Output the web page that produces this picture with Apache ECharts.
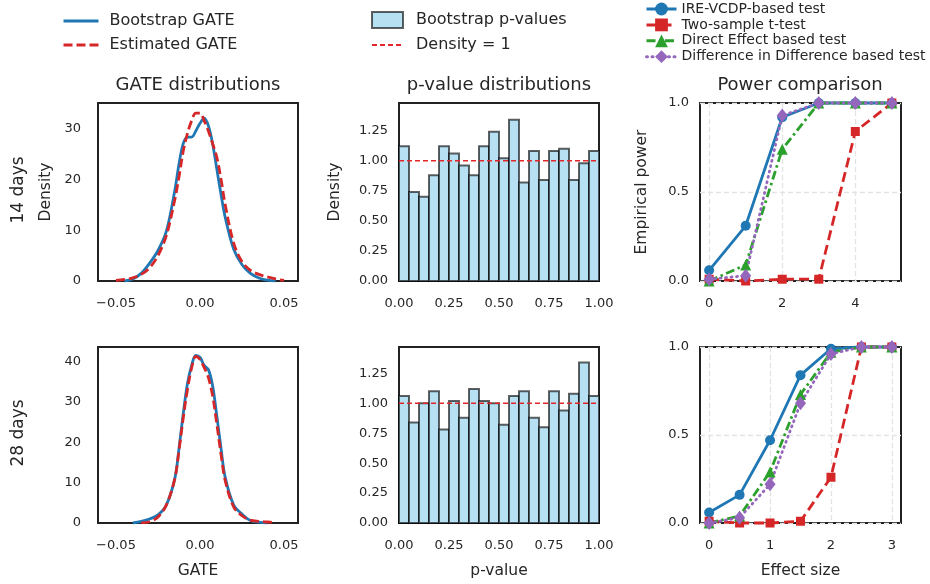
<!DOCTYPE html>
<html>
<head>
<meta charset="utf-8">
<script src="https://cdn.jsdelivr.net/npm/echarts@6/dist/echarts.min.js"></script>
<style>
  html, body { margin: 0; padding: 0; background: #fff; }
  #main { width: 930px; height: 584px; }
</style>
</head>
<body>
<div id="main"></div>
<script>
// GATE kde curves
var gateGrid = [-0.05, -0.045, -0.04, -0.035, -0.03, -0.025, -0.02, -0.015, -0.0125, -0.01, -0.0075, -0.005, -0.0025,
  0, 0.0025, 0.005, 0.0075, 0.01, 0.0125, 0.015, 0.02, 0.025, 0.03, 0.035, 0.04, 0.045, 0.05];
var boot14 = [null, 0.0, 0.4, 1.5, 3.5, 6.0, 9.8, 17.8, 23, 27, 28.3, 28.3, 29.5,
  31.0, 32.0, 30.5, 27, 22, 17, 12.5, 6.3, 3.2, 1.5, 0.6, 0.15, 0.0, null];
var est14 = [0.1, 0.3, 0.6, 1.3, 2.6, 5.0, 9.0, 16.0, 20.5, 25.5, 29.0, 31.5, 33.0,
  33.0, 31.5, 29.5, 27, 24.3, 20, 15, 7.5, 3.8, 2.1, 1.3, 0.8, 0.4, 0.1];
var boot28 = [null, null, 0.0, 0.4, 1.0, 2.0, 4.5, 11, 18.5, 27, 34.5, 39, 41.5,
  41, 39, 38, 34, 26.5, 18.5, 11.3, 4.5, 2.2, 0.6, 0.2, 0.0, null, null];
var est28 = [null, null, null, 0.05, 0.3, 1.5, 4.5, 11, 18, 26, 33, 38.4, 41.3,
  40.5, 38.5, 36, 31.5, 24.5, 17, 10.5, 4.0, 1.8, 0.7, 0.4, 0.25, 0.1, null];

// p-value histograms, 20 bins on [0, 1]
var pvalHist14 = [1.12, 0.74, 0.70, 0.88, 1.12, 1.06, 0.96, 0.88, 1.12, 1.24,
  1.02, 1.34, 0.82, 1.08, 0.84, 1.08, 1.10, 0.84, 0.98, 1.08];
var pvalHist28 = [1.06, 0.84, 1.00, 1.10, 0.78, 1.02, 0.88, 1.12, 1.02, 1.00,
  0.82, 1.06, 1.10, 0.88, 0.80, 1.10, 0.94, 1.08, 1.34, 1.06];

// power comparison
var effect14 = [0, 1, 2, 3, 4, 5];
var ire14 = [0.06, 0.31, 0.92, 1.0, 1.0, 1.0];
var ttest14 = [0.01, 0.0, 0.01, 0.01, 0.84, 1.0];
var direct14 = [0.0, 0.09, 0.74, 1.0, 1.0, 1.0];
var did14 = [0.01, 0.03, 0.93, 1.0, 1.0, 1.0];

var effect28 = [0, 0.5, 1, 1.5, 2, 2.5, 3];
var ire28 = [0.06, 0.16, 0.47, 0.84, 0.99, 1.0, 1.0];
var ttest28 = [0.01, 0.0, 0.0, 0.01, 0.26, 1.0, 1.0];
var direct28 = [0.0, 0.04, 0.29, 0.73, 0.97, 1.0, 1.0];
var did28 = [0.0, 0.03, 0.22, 0.68, 0.96, 1.0, 1.0];

var gateTicks = [-0.05, 0, 0.05];
var pvalTicks = [0, 0.25, 0.5, 0.75, 1];
var densTicks = [0, 0.25, 0.5, 0.75, 1, 1.25];

var font = 'DejaVu Sans';
var ink = '#262626';
var blue = '#1f77b4', red = '#d62728', green = '#2ca02c', purple = '#9467bd';
var histFill = '#b7e1f3';

function pairs(xs, ys) {
  var out = [];
  for (var i = 0; i < xs.length; i++) {
    if (ys[i] !== null) out.push([xs[i], ys[i]]);
  }
  return out;
}

function histRows(h) {
  var w = 1 / h.length;
  return h.map(function(v, i) { return [i * w, (i + 1) * w, v]; });
}

function renderBin(params, api) {
  var a = api.coord([api.value(0), api.value(2)]);
  var b = api.coord([api.value(1), 0]);
  return {
    type: 'rect',
    shape: { x: a[0], y: a[1], width: b[0] - a[0], height: b[1] - a[1] },
    style: { fill: histFill, stroke: 'rgba(0,0,0,0.62)', lineWidth: 2 }
  };
}

function minus(v, d) {
  var s = Math.abs(v).toFixed(d);
  return v < 0 ? '\u2212' + s : s;
}

var lefts = [98, 399, 700];
var widths = [200, 200, 201];
var tops = [103, 347];
var heights = [178, 176];

var grids = [];
for (var r = 0; r < 2; r++) {
  for (var c = 0; c < 3; c++) {
    grids.push({
      left: lefts[c], top: tops[r], width: widths[c], height: heights[r],
      show: true, borderColor: '#222', borderWidth: 2, backgroundColor: 'transparent'
    });
  }
}

var label = { color: ink, fontFamily: font, fontSize: 13 };
var nameStyle = { color: ink, fontFamily: font, fontSize: 15.5 };
var gridDash = { show: true, lineStyle: { color: '#e3e3e3', width: 1.3, type: [5, 3] } };

function xAxis(idx, opt) {
  var base = {
    type: 'value', gridIndex: idx,
    axisLine: { show: false }, axisTick: { show: false },
    splitLine: { show: false },
    axisLabel: Object.assign({ margin: 16 }, label),
    nameLocation: 'middle', nameGap: 40, nameTextStyle: nameStyle
  };
  return echarts.util.merge(base, opt, true);
}
function yAxis(idx, opt) {
  var base = {
    type: 'value', gridIndex: idx,
    axisLine: { show: false }, axisTick: { show: false },
    splitLine: { show: false },
    axisLabel: Object.assign({ margin: 11 }, label),
    nameLocation: 'middle', nameTextStyle: nameStyle
  };
  return echarts.util.merge(base, opt, true);
}

var gateX = {
  min: -0.0607, max: 0.0583,
  axisTick: { customValues: gateTicks },
  axisLabel: { customValues: gateTicks, formatter: function(v) { return minus(v, 2); } }
};
var pvalX = {
  min: 0, max: 1,
  axisTick: { customValues: pvalTicks },
  axisLabel: { customValues: pvalTicks, formatter: function(v) { return v.toFixed(2); } }
};

var xAxes = [
  xAxis(0, gateX),
  xAxis(1, pvalX),
  xAxis(2, {
    min: -0.25, max: 5.25, splitLine: gridDash,
    axisTick: { customValues: [0, 2, 4] },
    axisLabel: { customValues: [0, 2, 4] }
  }),
  xAxis(3, echarts.util.merge({ name: 'GATE' }, gateX)),
  xAxis(4, echarts.util.merge({ name: 'p-value' }, pvalX)),
  xAxis(5, {
    name: 'Effect size', min: -0.15, max: 3.15, splitLine: gridDash,
    axisTick: { customValues: [0, 1, 2, 3] },
    axisLabel: { customValues: [0, 1, 2, 3] }
  })
];

var yAxes = [
  yAxis(0, {
    min: 0, max: 35, name: 'Density', nameGap: 44,
    axisTick: { customValues: [0, 10, 20, 30] },
    axisLabel: { customValues: [0, 10, 20, 30], margin: 17 }
  }),
  yAxis(1, {
    min: 0, max: 1.48, name: 'Density', nameGap: 56,
    axisTick: { customValues: densTicks },
    axisLabel: { customValues: densTicks, formatter: function(v) { return v.toFixed(2); } }
  }),
  yAxis(2, {
    min: 0, max: 1, interval: 0.5, name: 'Empirical power', nameGap: 50, splitLine: gridDash,
    axisLabel: { formatter: function(v) { return v.toFixed(1); } }
  }),
  yAxis(3, {
    min: 0, max: 43.6,
    axisTick: { customValues: [0, 10, 20, 30, 40] },
    axisLabel: { customValues: [0, 10, 20, 30, 40], margin: 17 }
  }),
  yAxis(4, {
    min: 0, max: 1.47,
    axisTick: { customValues: densTicks },
    axisLabel: { customValues: densTicks, formatter: function(v) { return v.toFixed(2); } }
  }),
  yAxis(5, {
    min: 0, max: 1, interval: 0.5, splitLine: gridDash,
    axisLabel: { formatter: function(v) { return v.toFixed(1); } }
  })
];

var series = [];

function kde(name, idx, ys, color, dash) {
  series.push({
    name: name, type: 'line', xAxisIndex: idx, yAxisIndex: idx,
    data: pairs(gateGrid, ys), smooth: 0.35, symbol: 'none',
    lineStyle: { color: color, width: 2.8, type: dash || 'solid' },
    itemStyle: { color: color }
  });
}
kde('Bootstrap GATE', 0, boot14, blue);
kde('Estimated GATE', 0, est14, red, [9, 4]);
kde('Bootstrap GATE', 3, boot28, blue);
kde('Estimated GATE', 3, est28, red, [9, 4]);

function hist(idx, h) {
  series.push({
    name: 'Bootstrap p-values', type: 'custom', xAxisIndex: idx, yAxisIndex: idx,
    renderItem: renderBin, encode: { x: [0, 1], y: 2 },
    data: histRows(h), itemStyle: { color: histFill }
  });
  series.push({
    name: 'Density = 1', type: 'line', xAxisIndex: idx, yAxisIndex: idx,
    data: [[0, 1], [1, 1]], symbol: 'none', z: 3,
    lineStyle: { color: '#e3262a', width: 1.5, type: [5, 3] },
    itemStyle: { color: '#e3262a' }
  });
}
hist(1, pvalHist14);
hist(4, pvalHist28);

var tests = [
  { name: 'IRE-VCDP-based test', color: blue, symbol: 'circle', size: 10, dash: 'solid' },
  { name: 'Two-sample t-test', color: red, symbol: 'rect', size: 9, dash: [10, 5] },
  { name: 'Direct Effect based test', color: green, symbol: 'triangle', size: 11, dash: [9, 3.5, 2.5, 3.5] },
  { name: 'Difference in Difference based test', color: purple, symbol: 'diamond', size: [11, 14], dash: [1, 4.5] }
];
function power(idx, xs, vals) {
  tests.forEach(function(t, k) {
    series.push({
      name: t.name, type: 'line', xAxisIndex: idx, yAxisIndex: idx,
      data: pairs(xs, vals[k]), symbol: t.symbol, symbolSize: t.size,
      showAllSymbol: true, clip: false,
      lineStyle: { color: t.color, width: 2.8, type: t.dash, cap: k === 3 ? 'round' : 'butt' },
      itemStyle: { color: t.color }
    });
  });
}
power(2, effect14, [ire14, ttest14, direct14, did14]);
power(5, effect28, [ire28, ttest28, direct28, did28]);

var legendText = { color: ink, fontFamily: font };
// plain line entries: hide the marker that echarts puts on line icons
var noMark = { opacity: 0 };

var option = {
  animation: false,
  backgroundColor: '#fff',
  textStyle: { fontFamily: font },
  grid: grids,
  xAxis: xAxes,
  yAxis: yAxes,
  legend: [
    {
      left: 62, top: 13, padding: 0, orient: 'vertical', itemWidth: 35, itemHeight: 14, itemGap: 8,
      selectedMode: false,
      lineStyle: { width: 3 },
      data: [
        { name: 'Bootstrap GATE', itemStyle: noMark },
        { name: 'Estimated GATE', itemStyle: noMark }
      ],
      textStyle: Object.assign({ fontSize: 16, padding: [0, 0, 0, 6] }, legendText)
    },
    {
      left: 371, top: 11, padding: 0, orient: 'vertical', itemWidth: 31, itemHeight: 16, itemGap: 8,
      selectedMode: false,
      data: [
        { name: 'Bootstrap p-values', icon: 'rect',
          itemStyle: { color: histFill, borderColor: 'rgba(0,0,0,0.62)', borderWidth: 2 } },
        { name: 'Density = 1', itemStyle: noMark }
      ],
      textStyle: Object.assign({ fontSize: 16, padding: [0, 0, 0, 8] }, legendText)
    },
    {
      left: 645, top: 2, padding: 0, orient: 'vertical', itemWidth: 30, itemHeight: 16, itemGap: 1.9,
      selectedMode: false,
      lineStyle: { width: 3 },
      data: tests.map(function(t) { return t.name; }),
      textStyle: Object.assign({ fontSize: 14 }, legendText)
    }
  ],
  graphic: [
    { type: 'text', x: 198, y: 85, style: { text: 'GATE distributions', align: 'center', verticalAlign: 'middle', fontSize: 18, fontFamily: font, fill: ink } },
    { type: 'text', x: 499, y: 85, style: { text: 'p-value distributions', align: 'center', verticalAlign: 'middle', fontSize: 18, fontFamily: font, fill: ink } },
    { type: 'text', x: 800, y: 85, style: { text: 'Power comparison', align: 'center', verticalAlign: 'middle', fontSize: 18, fontFamily: font, fill: ink } },
    { type: 'text', x: 19, y: 190, rotation: Math.PI / 2, style: { text: '14 days', align: 'center', verticalAlign: 'middle', fontSize: 17, fontFamily: font, fill: ink } },
    { type: 'text', x: 19, y: 433, rotation: Math.PI / 2, style: { text: '28 days', align: 'center', verticalAlign: 'middle', fontSize: 17, fontFamily: font, fill: ink } }
  ],
  series: series
};

var myChart = echarts.init(document.getElementById('main'));
myChart.setOption(option);
window.addEventListener('resize', function() {
  myChart.resize();
});
</script>
</body>
</html>
